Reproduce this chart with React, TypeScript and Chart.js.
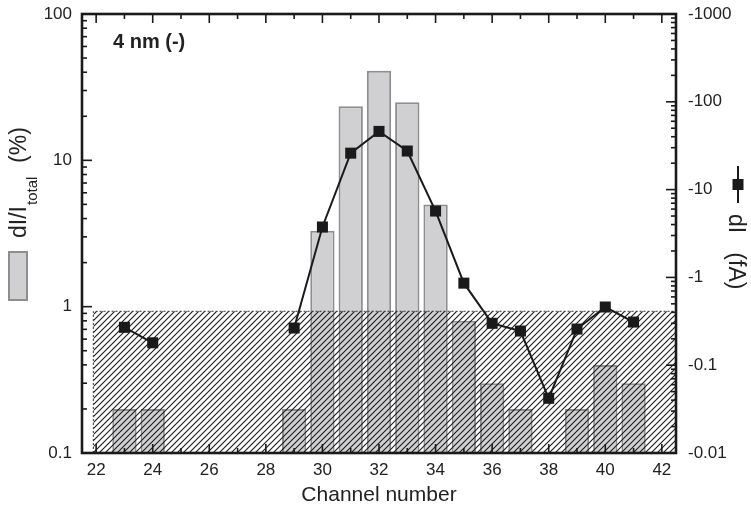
import React, { useEffect, useRef } from 'react';
import { Chart, registerables } from 'chart.js';

Chart.register(...registerables);

// ---- data ----
const channels = [23, 24, 25, 26, 27, 28, 29, 30, 31, 32, 33, 34, 35, 36, 37, 38, 39, 40, 41];
const ratioPercent = [0.2, 0.2, null, null, null, null, 0.2, 3.3, 23.4, 41, 24.9, 5.0, 0.8, 0.3, 0.2, null, 0.2, 0.4, 0.3];
const dIfA = [-0.27, -0.18, null, null, null, null, -0.265, -3.75, -26, -46, -27.5, -5.7, -0.86, -0.3, -0.245, -0.042, -0.258, -0.46, -0.31];
const xTickValues = [22, 24, 26, 28, 30, 32, 34, 36, 38, 40, 42];
const leftTickValues = [0.1, 1, 10, 100];
const rightTickValues = [0.01, 0.1, 1, 10, 100, 1000];
const noiseLevelPercent = 0.93;
const noiseStartChannel = 21.9;
const noiseEndChannel = 42.5;

const FONT = '"Liberation Sans", Arial, Helvetica, sans-serif';
const TEXT = '#222222';

function makeHatch(ctx: CanvasRenderingContext2D) {
  const p = document.createElement('canvas');
  p.width = 6;
  p.height = 6;
  const c = p.getContext('2d')!;
  c.strokeStyle = '#1e1e1e';
  c.lineWidth = 1.15;
  c.beginPath();
  c.moveTo(0, 6);
  c.lineTo(6, 0);
  c.moveTo(-1, 1);
  c.lineTo(1, -1);
  c.moveTo(5, 7);
  c.lineTo(7, 5);
  c.stroke();
  return ctx.createPattern(p, 'repeat');
}

const framePlugin = {
  id: 'frameTicks',
  afterDraw(chart: any) {
    const { ctx, chartArea: a, scales } = chart;
    const sx = scales.x, sy = scales.y, sy2 = scales.y2;
    ctx.save();
    ctx.strokeStyle = '#1a1a1a';
    ctx.lineWidth = 1.6;
    const seg = (x1: number, y1: number, x2: number, y2: number) => {
      ctx.beginPath();
      ctx.moveTo(x1, y1);
      ctx.lineTo(x2, y2);
      ctx.stroke();
    };
    // x ticks (bottom and top)
    xTickValues.forEach((v, i) => {
      const px = sx.getPixelForValue(v);
      seg(px, a.bottom, px, a.bottom - 9);
      seg(px, a.top, px, a.top + 9);
      if (i < xTickValues.length - 1) {
        const mv = (v + xTickValues[i + 1]) / 2;
        const mp = sx.getPixelForValue(mv);
        seg(mp, a.bottom, mp, a.bottom - 5);
        seg(mp, a.top, mp, a.top + 5);
      }
    });
    // left log ticks
    leftTickValues.forEach((d, i) => {
      const py = sy.getPixelForValue(d);
      seg(a.left, py, a.left + 10, py);
      if (i < leftTickValues.length - 1) {
        for (let m = 2; m <= 9; m++) {
          const mp = sy.getPixelForValue(d * m);
          seg(a.left, mp, a.left + 5, mp);
        }
      }
    });
    // right log ticks
    rightTickValues.forEach((d, i) => {
      const py = sy2.getPixelForValue(d);
      seg(a.right, py, a.right - 10, py);
      if (i < rightTickValues.length - 1) {
        for (let m = 2; m <= 9; m++) {
          const mp = sy2.getPixelForValue(d * m);
          seg(a.right, mp, a.right - 5, mp);
        }
      }
    });
    // frame
    ctx.lineWidth = 2.6;
    ctx.strokeRect(a.left, a.top, a.right - a.left, a.bottom - a.top);

    // annotation
    ctx.fillStyle = TEXT;
    ctx.font = `bold 20px ${FONT}`;
    ctx.textAlign = 'left';
    ctx.textBaseline = 'alphabetic';
    ctx.fillText('4 nm (-)', 113, 48);

    // left axis title with subscript
    ctx.save();
    ctx.translate(26, 238);
    ctx.rotate(-Math.PI / 2);
    ctx.font = `23px ${FONT}`;
    ctx.fillText('dI/I', 0, 0);
    let w = ctx.measureText('dI/I').width;
    ctx.font = `15px ${FONT}`;
    ctx.fillText('total', w + 1, 11);
    w += ctx.measureText('total').width + 2;
    ctx.font = `23px ${FONT}`;
    ctx.fillText('  (%)', w, 0);
    ctx.restore();

    // left legend box
    ctx.fillStyle = '#d0d0d3';
    ctx.fillRect(9, 252, 18, 48);
    ctx.strokeStyle = '#8e8e8e';
    ctx.lineWidth = 2;
    ctx.strokeRect(9, 252, 18, 48);

    // right legend symbol
    ctx.strokeStyle = '#1a1a1a';
    ctx.lineWidth = 2;
    seg(738, 166, 738, 203);
    ctx.fillStyle = '#1a1a1a';
    ctx.fillRect(732.5, 179, 11, 11);

    // right axis title
    ctx.save();
    ctx.translate(729, 214);
    ctx.rotate(Math.PI / 2);
    ctx.fillStyle = TEXT;
    ctx.font = `23px ${FONT}`;
    ctx.textAlign = 'left';
    ctx.fillText('dI   (fA)', 0, 0);
    ctx.restore();

    ctx.restore();
  },
};

export default function App() {
  const ref = useRef<HTMLCanvasElement | null>(null);
  useEffect(() => {
    const canvas = ref.current!;
    const ctx = canvas.getContext('2d')!;
    const hatch = makeHatch(ctx);
    const barData = channels.map((c, i) => ({ x: c, y: ratioPercent[i] }));
    const lineData = channels.map((c, i) => ({ x: c, y: dIfA[i] === null ? null : Math.abs(dIfA[i] as number) }));
    const noiseData = [
      { x: noiseStartChannel, y: leftTickValues[0] },
      { x: noiseStartChannel, y: noiseLevelPercent },
      { x: noiseEndChannel, y: noiseLevelPercent },
    ];
    const chart = new Chart(canvas, {
      data: {
        datasets: [
          {
            type: 'bar',
            data: barData as any,
            yAxisID: 'y',
            backgroundColor: '#d0d0d3',
            borderColor: '#8e8e8e',
            borderWidth: 2,
            barPercentage: 1,
            categoryPercentage: 0.86,
            order: 3,
          },
          {
            type: 'line',
            data: noiseData as any,
            yAxisID: 'y',
            borderColor: '#333333',
            borderWidth: 1,
            borderDash: [2, 2],
            backgroundColor: hatch as any,
            fill: 'start',
            pointRadius: 0,
            tension: 0,
            order: 2,
          },
          {
            type: 'line',
            data: lineData as any,
            yAxisID: 'y2',
            borderColor: '#1a1a1a',
            borderWidth: 2,
            pointStyle: 'rect',
            pointRadius: 7.8,
            pointBackgroundColor: '#1a1a1a',
            pointBorderColor: '#1a1a1a',
            pointBorderWidth: 0,
            spanGaps: false,
            tension: 0,
            order: 1,
          },
        ],
      },
      options: {
        animation: false,
        responsive: false,
        devicePixelRatio: 1,
        layout: { padding: { top: 14, left: 0, right: 0, bottom: 0 } },
        plugins: { legend: { display: false }, tooltip: { enabled: false } },
        scales: {
          x: {
            type: 'linear',
            offset: false,
            min: 21.5,
            max: 42.5,
            grid: { display: false, drawTicks: false, offset: false },
            border: { display: false },
            afterBuildTicks: (s: any) => {
              s.ticks = xTickValues.map((v) => ({ value: v }));
            },
            afterFit: (s: any) => {
              s.height = 62;
              s.paddingLeft = 0;
              s.paddingRight = 0;
            },
            ticks: {
              autoSkip: false,
              maxRotation: 0,
              padding: 7,
              color: TEXT,
              font: { family: FONT, size: 17 },
              callback: (v: any) => String(v),
            },
            title: {
              display: true,
              text: 'Channel number',
              color: TEXT,
              font: { family: FONT, size: 21 },
              padding: { top: 0, bottom: 7 },
            },
          },
          y: {
            type: 'logarithmic',
            position: 'left',
            min: 0.1,
            max: 100,
            grid: { display: false, drawTicks: false },
            border: { display: false },
            afterBuildTicks: (s: any) => {
              s.ticks = leftTickValues.map((v) => ({ value: v }));
            },
            afterFit: (s: any) => {
              s.width = 82;
              s.paddingTop = 0;
              s.paddingBottom = 0;
            },
            ticks: {
              autoSkip: false,
              padding: 10,
              color: TEXT,
              font: { family: FONT, size: 17 },
              callback: (v: any) => String(v),
            },
          },
          y2: {
            type: 'logarithmic',
            position: 'right',
            min: 0.01,
            max: 1000,
            grid: { display: false, drawTicks: false },
            border: { display: false },
            afterBuildTicks: (s: any) => {
              s.ticks = rightTickValues.map((v) => ({ value: v }));
            },
            afterFit: (s: any) => {
              s.width = 75;
              s.paddingTop = 0;
              s.paddingBottom = 0;
            },
            ticks: {
              autoSkip: false,
              padding: 12,
              color: TEXT,
              font: { family: FONT, size: 17 },
              callback: (v: any) => '-' + String(v),
            },
          },
        },
      },
      plugins: [framePlugin],
    } as any);
    return () => chart.destroy();
  }, []);
  return (
    <div style={{ position: 'absolute', left: 0, top: 0, width: 751, height: 515, background: '#fff' }}>
      <canvas ref={ref} width={751} height={515} style={{ width: 751, height: 515, display: 'block' }} />
    </div>
  );
}
